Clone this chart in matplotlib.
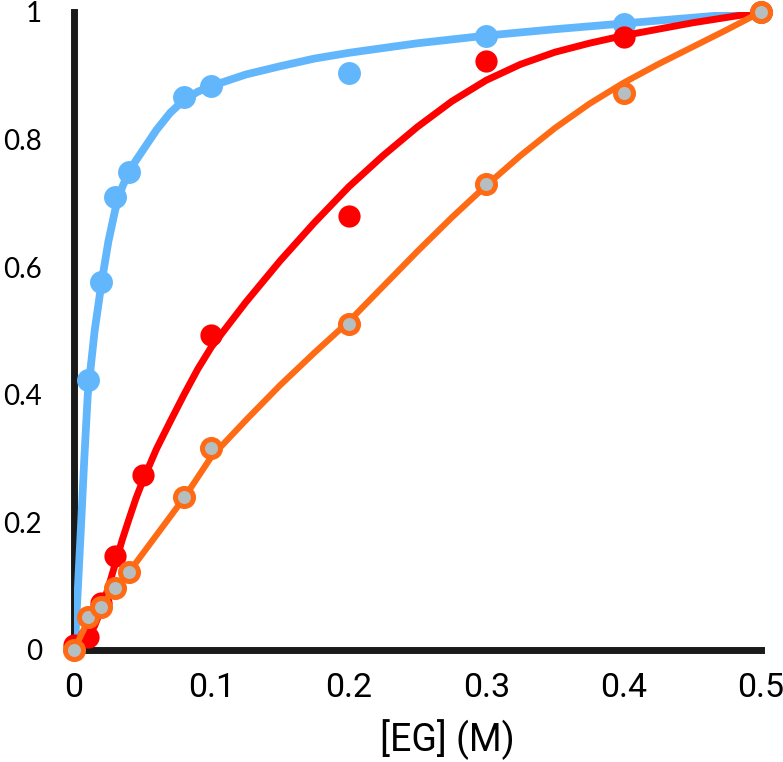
import matplotlib
matplotlib.use("Agg")
import matplotlib.pyplot as plt

# measured points
blue_x = [0.01, 0.02, 0.03, 0.04, 0.08, 0.1, 0.2, 0.3, 0.4, 0.5]
blue_y = [0.423, 0.577, 0.71, 0.75, 0.866, 0.884, 0.904, 0.962, 0.981, 1.0]

red_x = [0, 0.01, 0.02, 0.03, 0.05, 0.1, 0.2, 0.3, 0.4, 0.5]
red_y = [0.008, 0.02, 0.073, 0.148, 0.274, 0.494, 0.68, 0.923, 0.961, 1.0]

orange_x = [0, 0.01, 0.02, 0.03, 0.04, 0.08, 0.1, 0.2, 0.3, 0.4, 0.5]
orange_y = [0, 0.052, 0.067, 0.097, 0.122, 0.24, 0.317, 0.511, 0.73, 0.873, 1.0]

# fitted curves
blue_fit_x = [0, 0.0012, 0.005, 0.0075, 0.01, 0.015, 0.02, 0.025, 0.03, 0.035, 0.04,
              0.045, 0.05, 0.06, 0.07, 0.08, 0.09, 0.1, 0.125, 0.15, 0.175, 0.2,
              0.25, 0.3, 0.35, 0.4, 0.45, 0.5]
blue_fit_y = [0, 0.027, 0.19, 0.30, 0.40, 0.50, 0.575, 0.64, 0.69, 0.725, 0.75,
              0.767, 0.783, 0.815, 0.842, 0.862, 0.875, 0.884, 0.902, 0.915, 0.927, 0.936,
              0.951, 0.963, 0.973, 0.982, 0.991, 1.0]

red_fit_x = [0, 0.01, 0.015, 0.02, 0.025, 0.03, 0.035, 0.04, 0.045, 0.05, 0.06, 0.07,
             0.08, 0.09, 0.1, 0.125, 0.15, 0.175, 0.2, 0.225, 0.25, 0.275, 0.3, 0.325,
             0.35, 0.375, 0.4, 0.45, 0.5]
red_fit_y = [0, 0.018, 0.038, 0.065, 0.098, 0.135, 0.172, 0.205, 0.237, 0.265, 0.315, 0.358,
             0.40, 0.44, 0.475, 0.545, 0.61, 0.67, 0.726, 0.775, 0.82, 0.86, 0.893, 0.918,
             0.937, 0.951, 0.963, 0.983, 1.0]

orange_fit_x = [0, 0.01, 0.02, 0.03, 0.04, 0.06, 0.08, 0.1, 0.125, 0.15, 0.175, 0.2,
                0.225, 0.25, 0.275, 0.3, 0.325, 0.35, 0.375, 0.4, 0.425, 0.45, 0.475, 0.5]
orange_fit_y = [0, 0.045, 0.07, 0.097, 0.122, 0.18, 0.238, 0.303, 0.36, 0.415, 0.466, 0.515,
                0.57, 0.625, 0.678, 0.728, 0.775, 0.818, 0.856, 0.889, 0.918, 0.945, 0.972, 1.0]

x_ticks = [0, 0.1, 0.2, 0.3, 0.4, 0.5]
x_tick_labels = ["0", "0.1", "0.2", "0.3", "0.4", "0.5"]
y_ticks = [0, 0.2, 0.4, 0.6, 0.8, 1.0]
y_tick_labels = ["0", "0.2", "0.4", "0.6", "0.8", "1"]

blue = "#62b6fb"
red = "#ff0000"
orange = "#ff6a14"
grey = "#b5bfc1"

fig = plt.figure(figsize=(7.83, 7.62), dpi=100)
ax = fig.add_axes([74 / 783, 112 / 762, 687 / 783, 638 / 762])

ax.plot(blue_fit_x, blue_fit_y, color=blue, lw=5.6, solid_joinstyle="round",
        solid_capstyle="round", zorder=3)
ax.plot(blue_x, blue_y, "o", color=blue, ms=16.5, mew=0, zorder=4, clip_on=False)

ax.plot(red_fit_x, red_fit_y, color=red, lw=5, solid_joinstyle="round",
        solid_capstyle="round", zorder=5)
ax.plot(red_x, red_y, "o", color=red, ms=16, mew=0, zorder=6, clip_on=False)

ax.plot(orange_fit_x, orange_fit_y, color=orange, lw=4.5, solid_joinstyle="round",
        solid_capstyle="round", zorder=7)
ax.plot(orange_x, orange_y, "o", mfc=grey, mec=orange, ms=13, mew=3.6, zorder=8,
        clip_on=False)

ax.set_xlim(0, 0.5)
ax.set_ylim(0, 1)

for side in ["top", "right"]:
    ax.spines[side].set_visible(False)
for side in ["left", "bottom"]:
    ax.spines[side].set_linewidth(5)
    ax.spines[side].set_color("#1a1a1a")
    ax.spines[side].set_zorder(2)

ax.set_xticks(x_ticks)
ax.set_xticklabels(x_tick_labels, fontfamily="Roboto", fontsize=24.5)
ax.set_yticks(y_ticks)
ax.set_yticklabels(y_tick_labels, fontfamily="Lato", fontsize=20)
ax.tick_params(axis="both", length=0)
ax.tick_params(axis="x", pad=16)
ax.tick_params(axis="y", pad=23)

ax.set_xlabel("[EG] (M)", fontfamily="Roboto", fontsize=27)
ax.xaxis.set_label_coords(0.544, -0.108)

fig.savefig("out.png", dpi=100)
